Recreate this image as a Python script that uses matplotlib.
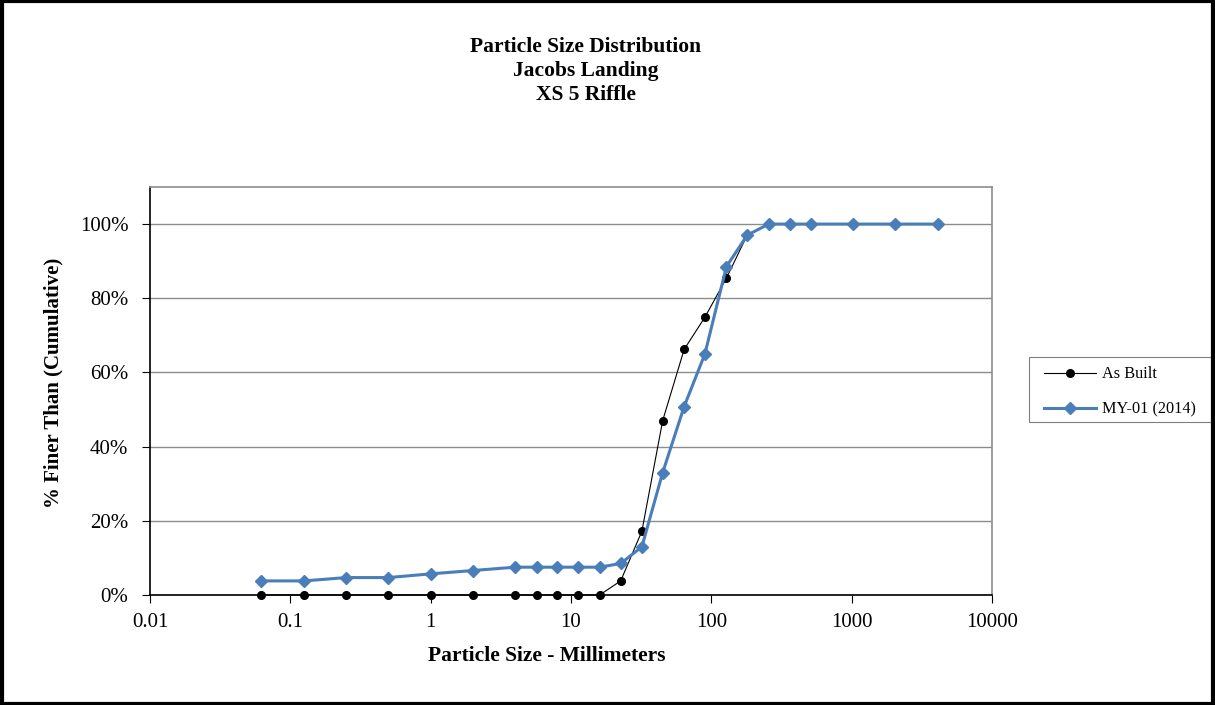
import matplotlib
matplotlib.use("Agg")
import matplotlib.pyplot as plt
from matplotlib.patches import Rectangle
from matplotlib.ticker import FixedLocator, FuncFormatter

# particle sizes (mm) for sieve classes
sizes = [0.062, 0.125, 0.25, 0.5, 1, 2, 4, 5.7, 8, 11.3, 16, 22.6, 32, 45,
         64, 90, 128, 180, 256, 362, 512, 1024, 2048, 4096]

as_built = [0, 0, 0, 0, 0, 0, 0, 0, 0, 0, 0, 0.038, 0.172, 0.47,
            0.662, 0.749, 0.854, 0.97, 1.0, 1.0, 1.0, 1.0, 1.0, 1.0]

my01 = [0.038, 0.038, 0.047, 0.047, 0.057, 0.066, 0.075, 0.075, 0.075, 0.075,
        0.075, 0.085, 0.130, 0.330, 0.508, 0.650, 0.885, 0.970, 1.0, 1.0,
        1.0, 1.0, 1.0, 1.0]

xticks = [0.01, 0.1, 1, 10, 100, 1000, 10000]
yticks = [0, 0.2, 0.4, 0.6, 0.8, 1.0]

plt.rcParams["font.family"] = ["Liberation Serif", "DejaVu Serif"]

W, H = 1215, 705
fig = plt.figure(figsize=(W / 100, H / 100), dpi=100)
ax = fig.add_axes([150 / W, 1 - 595 / H, (992 - 150) / W, (595 - 187) / H])

ax.plot(sizes, as_built, color="black", linewidth=0.8, marker="o", markersize=5.5,
        label="As Built", zorder=3, clip_on=False)
ax.plot(sizes, my01, color="#4a7ebb", linewidth=2.2, marker="D", markersize=6,
        label="MY-01 (2014)", zorder=4, clip_on=False)

ax.set_xscale("log")
ax.set_xlim(0.01, 10000)
ax.set_ylim(0, 1.1)
ax.xaxis.set_major_locator(FixedLocator(xticks))
ax.xaxis.set_minor_locator(FixedLocator([]))
ax.xaxis.set_major_formatter(FuncFormatter(lambda v, p: f"{v:g}"))
ax.set_yticks(yticks)
ax.yaxis.set_major_formatter(FuncFormatter(lambda v, p: f"{v:.0%}"))
ax.tick_params(axis="both", labelsize=15, direction="out", length=5.5, width=0.8)
ax.tick_params(axis="x", pad=7.5)
ax.tick_params(axis="y", pad=10)

ax.grid(axis="y", color="#8c8c8c", linewidth=1)
ax.set_axisbelow(True)
for s in ["top", "right"]:
    ax.spines[s].set_color("#8c8c8c")
    ax.spines[s].set_linewidth(1.2)
for s in ["left", "bottom"]:
    ax.spines[s].set_color("black")
    ax.spines[s].set_linewidth(1.2)

ax.set_xlabel("Particle Size - Millimeters", fontsize=15.5, fontweight="bold")
ax.xaxis.set_label_coords(0.471, -0.125)
ax.set_ylabel("% Finer Than (Cumulative)", fontsize=15, fontweight="bold")
ax.yaxis.set_label_coords(-0.103, 0.52)

fig.text(586 / W, 1 - 71 / H, "Particle Size Distribution\nJacobs Landing\nXS 5 Riffle",
         ha="center", va="center", fontsize=15.5, fontweight="bold", linespacing=1.25)

# legend box runs off into the chart border on the right
fig.patches.append(Rectangle((1029 / W, 1 - 422 / H), (W - 1029) / W, 65 / H,
                             transform=fig.transFigure, fill=False,
                             edgecolor="#7f7f7f", linewidth=0.8))
fig.legend(loc="center left", bbox_to_anchor=(1037 / W, 1 - 392 / H),
           fontsize=11.7, frameon=False, handlelength=3.2, borderpad=0.45,
           labelspacing=1.2, handletextpad=0.35, borderaxespad=0)

# outer chart border
fig.patches.append(Rectangle((0.002, 0.002), 0.996, 0.996, transform=fig.transFigure,
                             fill=False, edgecolor="black", linewidth=3))

fig.savefig("out.png", dpi=100)
